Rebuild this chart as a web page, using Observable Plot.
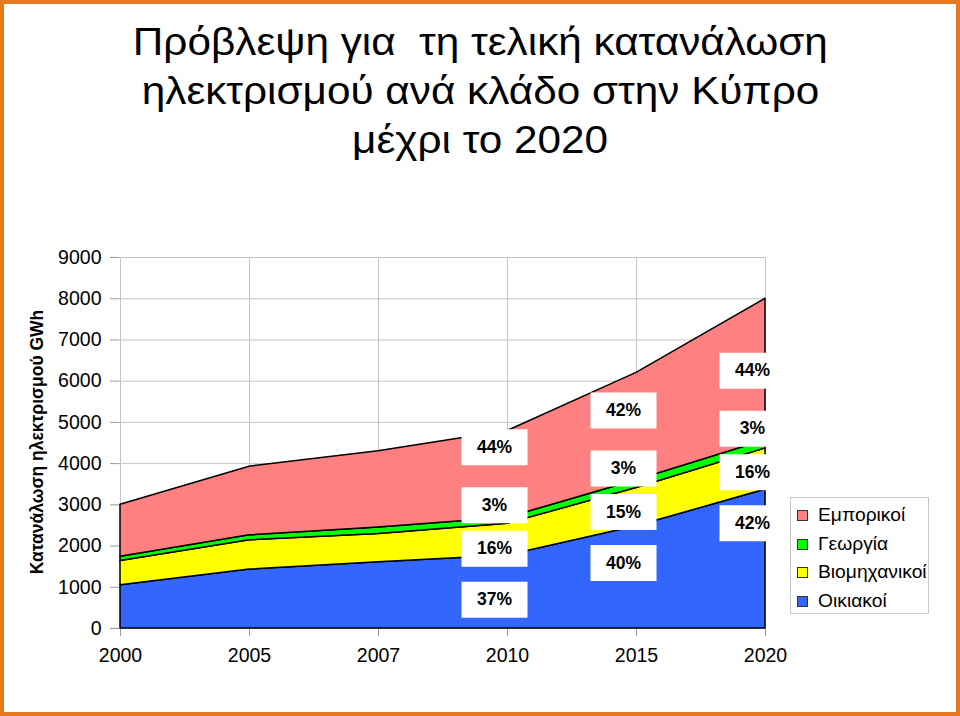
<!DOCTYPE html>
<html>
<head>
<meta charset="utf-8">
<script src="https://cdn.jsdelivr.net/npm/d3@7"></script>
<script src="https://cdn.jsdelivr.net/npm/@observablehq/plot@0.6"></script>
<style>
html, body { margin: 0; padding: 0; background: #fff; }
#wrap { position: relative; width: 960px; height: 716px; overflow: hidden; background: #fff;
  font-family: "Liberation Sans", Arial, sans-serif; color: #000; }
#frame { position: absolute; left: 0; top: 0; width: 960px; height: 716px; box-sizing: border-box;
  border: 4px solid #E8791F; pointer-events: none; z-index: 5; }
#title { position: absolute; left: 0; top: 18px; width: 960px; text-align: center;
  font-size: 38px; line-height: 49px; white-space: pre; }
#title span { display: inline-block; transform-origin: 50% 50%; }
#chart { position: absolute; left: 0; top: 190px; }
#ytitle { position: absolute; left: 37px; top: 442px; transform: translate(-50%, -50%) rotate(-90deg);
  font-size: 17.5px; font-weight: bold; white-space: nowrap; }
#legend { position: absolute; left: 790px; top: 497px; width: 139px; height: 117px; box-sizing: border-box;
  border: 1px solid #c8c8c8; background: #fff; padding-top: 3px; }
.lrow { height: 28.7px; display: flex; align-items: center; font-size: 17.5px; }
.lrow span { display: inline-block; transform: scaleX(1.1); transform-origin: 0 50%; }
.lsw { width: 9px; height: 9px; border: 1px solid #333; margin-left: 6px; margin-right: 10px; flex: none; }
</style>
</head>
<body>
<div id="wrap">
  <div id="title"></div>
  <div id="chart"></div>
  <div id="ytitle"></div>
  <div id="legend"></div>
  <div id="frame"></div>
</div>
<script>
// ---- data ----
const titleLines = ["Πρόβλεψη για  τη τελική κατανάλωση", "ηλεκτρισμού ανά κλάδο στην Κύπρο", "μέχρι το 2020"];
const yAxisTitle = "Κατανάλωση ηλεκτρισμού GWh";
const years = ["2000", "2005", "2007", "2010", "2015", "2020"];
const seriesNames = ["Οικιακοί", "Βιομηχανικοί", "Γεωργία", "Εμπορικοί"];
const seriesColors = ["#3366FF", "#FFFF00", "#00FF00", "#FF8080"];
const oikiakoi      = [1050, 1430, 1610, 1770, 2480, 3370];
const viomichanikoi = [ 590,  710,  680,  770,  930, 1000];
const georgia       = [ 100,  120,  160,  145,  186,  200];
const emporikoi     = [1260, 1665, 1850, 2105, 2604, 3430];
const yTicks = [0, 1000, 2000, 3000, 4000, 5000, 6000, 7000, 8000, 9000];
const labelYears   = ["2010", "2015", "2020"];
const pctOikiakoi  = ["37%", "40%", "42%"];
const pctViom      = ["16%", "15%", "16%"];
const pctGeorgia   = ["3%", "3%", "3%"];
const pctEmporikoi = ["44%", "42%", "44%"];

// ---- title, axis title, legend ----
const titleEl = document.getElementById("title");
titleLines.forEach(t => {
  const d = document.createElement("div");
  const s = document.createElement("span");
  s.textContent = t;
  d.appendChild(s);
  titleEl.appendChild(d);
});
const spans = titleEl.querySelectorAll("span");
const stretch = 695 / spans[0].getBoundingClientRect().width;
spans.forEach(s => s.style.transform = `scaleX(${stretch})`);

document.getElementById("ytitle").textContent = yAxisTitle;

const legendEl = document.getElementById("legend");
seriesNames.slice().reverse().forEach(name => {
  const i = seriesNames.indexOf(name);
  const row = document.createElement("div");
  row.className = "lrow";
  const sw = document.createElement("div");
  sw.className = "lsw";
  sw.style.background = seriesColors[i];
  const tx = document.createElement("span");
  tx.textContent = name;
  row.appendChild(sw); row.appendChild(tx);
  legendEl.appendChild(row);
});

// ---- tidy table ----
const seriesValues = [oikiakoi, viomichanikoi, georgia, emporikoi];
const rows = [];
seriesNames.forEach((s, si) => years.forEach((y, yi) => rows.push({year: y, series: s, value: seriesValues[si][yi]})));

// labels: grouped around the midpoint of the Γεωργία band of each labelled year
const pctArrays = [pctOikiakoi, pctViom, pctGeorgia, pctEmporikoi];
const slotDy = [79, 28, -15.5, -73.5];
const labels = [];
labelYears.forEach((y, li) => {
  const yi = years.indexOf(y);
  const anchor = oikiakoi[yi] + viomichanikoi[yi] + georgia[yi] / 2;
  seriesNames.forEach((s, si) => labels.push({year: y, anchor, text: pctArrays[si][li], slot: si}));
});

const boxSymbol = { draw(ctx) { ctx.rect(-33, -18, 66, 36); } };

const labelMarks = [];
seriesNames.forEach((s, si) => {
  const d = labels.filter(l => l.slot === si);
  labelMarks.push(Plot.dot(d, {x: "year", y: "anchor", dx: -13, dy: slotDy[si], symbol: boxSymbol, fill: "white", stroke: "none", clip: true}));
  labelMarks.push(Plot.text(d, {x: "year", y: "anchor", text: "text", dx: -13, dy: slotDy[si], fontWeight: "bold", fontSize: 17.5, fill: "black"}));
});

const chart = Plot.plot({
  width: 960,
  height: 526,
  marginLeft: 119,
  marginRight: 194,
  marginTop: 67,
  marginBottom: 88,
  style: {fontFamily: "'Liberation Sans', Arial, sans-serif", fontSize: "19.5px", color: "#000", background: "transparent", overflow: "visible"},
  x: {type: "point", domain: years, padding: 0, label: null, tickSize: 8, tickPadding: 12},
  y: {domain: [0, 9000], ticks: yTicks, tickFormat: d3.format("d"), label: null, tickSize: 9, tickPadding: 9},
  color: {domain: seriesNames, range: seriesColors},
  marks: [
    Plot.ruleY(yTicks, {stroke: "#c4c4c4", strokeWidth: 1}),
    Plot.ruleX(years, {stroke: "#c4c4c4", strokeWidth: 1}),
    Plot.areaY(rows, {x: "year", y: "value", z: "series", fill: "series", order: seriesNames,
      stroke: "black", strokeWidth: 1.5, strokeLinejoin: "round"}),
    ...labelMarks
  ]
});
document.getElementById("chart").appendChild(chart);

// grey tick marks
chart.querySelectorAll('[aria-label="x-axis tick"], [aria-label="y-axis tick"]').forEach(g => g.setAttribute("stroke", "#999"));
chart.querySelectorAll('g[aria-label="x-axis"] line, g[aria-label="y-axis"] line').forEach(l => l.setAttribute("stroke", "#999"));
chart.querySelectorAll('g[aria-label="x-axis"] path.domain, g[aria-label="y-axis"] path.domain').forEach(p => p.remove());
</script>
</body>
</html>
